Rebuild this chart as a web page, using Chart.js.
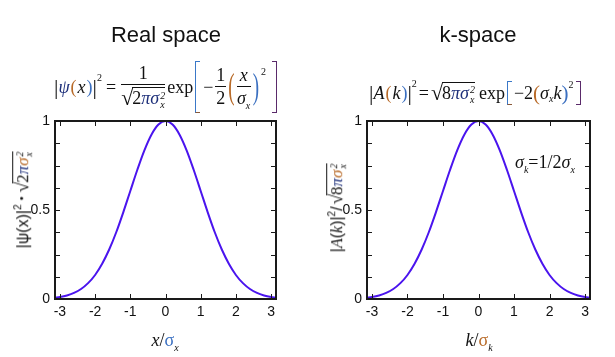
<!DOCTYPE html>
<html><head><meta charset="utf-8">
<script src="https://cdn.jsdelivr.net/npm/chart.js@4/dist/chart.umd.min.js"></script>
<style>
html,body{margin:0;padding:0;background:#fff;width:615px;height:357px;overflow:hidden}
#wrap{position:relative;width:615px;height:357px}
canvas{position:absolute;top:0}
.t{position:absolute;white-space:nowrap;color:#111}
.title{font-family:"Liberation Sans",Arial,sans-serif;font-size:22px;top:22px;transform:translateX(-50%)}
.m{font-family:"Liberation Serif","Times New Roman",serif;font-size:18px;display:flex;align-items:center;height:56px}
.i{font-style:italic}
.fr{display:inline-flex;flex-direction:column;align-items:center;margin:0 1px}
.fr .n{border-bottom:1px solid #111;padding:0 3px 1px;line-height:1.05;text-align:center;align-self:stretch}
.fr .d{line-height:1.05;padding-top:2px}
.ss{display:inline-flex;flex-direction:column;font-size:10px;line-height:0.95;vertical-align:middle;margin-left:1px}
.ov{border-top:1px solid #111;padding-top:1px;line-height:1}
.rad{font-size:22px;line-height:1;margin-right:-1px}
.br{display:inline-block;width:4px;border:1.5px solid;}
.bl{border-right:none}
.brr{border-left:none}
.bigp{display:inline-block;transform:scaleY(1.9);font-size:19px;margin:0 1px}
.sup{font-size:10px;position:relative;top:-9px}
.sub{font-size:10px;position:relative;top:5px}
.nv{color:#1d2f7a}
.bl2{color:#3a6fc0}
.or{color:#b86a28}
.sans{font-family:"Liberation Sans",Arial,sans-serif}
.ytitle{font-size:16px;transform:translate(-50%,-50%) rotate(-90deg);display:flex;align-items:center}
.xtitle{font-family:"Liberation Serif","Times New Roman",serif;font-size:18px;transform:translate(-50%,-50%);top:340px}
</style>
</head><body><div id="wrap">
<canvas id="c1" width="300" height="357" style="left:0"></canvas>
<canvas id="c2" width="315" height="357" style="left:300px"></canvas>

<div class="t title" style="left:166px">Real space</div>
<div class="t title" style="left:478px">k-space</div>

<!-- left formula -->
<div class="t m" style="left:54px;top:59px">
 <span style="font-size:22px">|</span><span class="i nv">ψ</span><span class="or" style="margin:0 1px">(</span><span class="i">x</span><span class="bl2" style="margin-left:1px">)</span><span style="font-size:22px">|</span><span class="sup" style="top:-10px">2</span>
 <span style="margin:0 4px">=</span>
 <span class="fr"><span class="n">1</span><span class="d" style="display:flex;align-items:flex-start"><span class="rad">√</span><span class="ov">2<span class="i nv">πσ</span><span class="ss i"><span>2</span><span>x</span></span></span></span></span>
 <span style="margin:0 2px 0 1px">exp</span>
 <span class="br bl" style="height:50px;border-color:#3a78c8 #3a78c8 #8a5a3a #3a78c8"></span>
 <span style="margin:0 1px 0 3px">−</span>
 <span class="fr"><span class="n" style="padding:0 1px 1px">1</span><span class="d">2</span></span>
 <span class="bigp or">(</span>
 <span class="fr"><span class="n i">x</span><span class="d"><span class="i">σ</span><span class="sub i">x</span></span></span>
 <span class="bigp bl2">)</span><span class="sup" style="top:-16px;margin-left:1px">2</span>
 <span class="br brr" style="height:50px;margin-left:6px;border-color:#5a2a6a"></span>
</div>

<!-- right formula -->
<div class="t m" style="left:369px;top:65px">
 <span style="font-size:22px">|</span><span class="i">A</span><span class="or" style="margin:0 1px">(</span><span class="i">k</span><span class="bl2" style="margin-left:1px">)</span><span style="font-size:22px">|</span><span class="sup" style="top:-10px">2</span>
 <span style="margin:0 2px">=</span>
 <span style="display:flex;align-items:flex-start"><span class="rad">√</span><span class="ov">8<span class="i nv">πσ</span><span class="ss i"><span>2</span><span>x</span></span></span></span>
 <span style="margin:0 2px 0 4px">exp</span>
 <span class="br bl" style="height:22px;border-color:#3a78c8 #3a78c8 #8a5a3a #3a78c8"></span>
 <span style="margin-left:2px">−2</span><span class="or" style="font-size:21px">(</span><span class="i">σ</span><span class="sub i">x</span><span class="i">k</span><span class="bl2" style="font-size:21px">)</span><span class="sup" style="top:-9px">2</span>
 <span class="br brr" style="height:22px;margin-left:3px;border-color:#5a2a6a"></span>
</div>

<!-- y titles -->
<div class="t ytitle" style="left:23px;top:200px">
 <span class="sans">|ψ(<span>x</span>)|<span class="sup" style="top:-7px">2</span></span><b style="margin:0 3px;font-size:18px">·</b>
 <span style="display:flex;align-items:flex-start;font-family:'Liberation Serif',serif;font-size:17px"><span class="rad" style="font-size:19px">√</span><span class="ov">2<span class="i nv">π</span><span class="i or">σ</span><span class="ss i"><span>2</span><span>x</span></span></span></span>
</div>
<div class="t ytitle" style="left:337px;top:208px">
 <span class="sans">|<span class="i" style="font-family:'Liberation Serif',serif">A</span>(<span class="i" style="font-family:'Liberation Serif',serif">k</span>)|<span class="sup" style="top:-7px">2</span>/</span>
 <span style="display:flex;align-items:flex-start;font-family:'Liberation Serif',serif;margin-left:2px;font-size:17px"><span class="rad" style="font-size:19px">√</span><span class="ov">8<span class="i nv">π</span><span class="i or">σ</span><span class="ss i"><span>2</span><span>x</span></span></span></span>
</div>

<!-- x titles -->
<div class="t xtitle" style="left:165px"><span class="i">x</span>/<span class="bl2">σ</span><span class="sub i">x</span></div>
<div class="t xtitle" style="left:479px"><span class="i">k</span>/<span class="or">σ</span><span class="sub i">k</span></div>

<!-- annotation -->
<div class="t" style="left:515px;top:152px;font-family:'Liberation Serif',serif;font-size:18px"><span class="i">σ</span><span class="sub i">k</span>=1/2<span class="i">σ</span><span class="sub i">x</span></div>
</div>

<script>
// ---- data ----
const xValues = [-3.14,-3.0,-2.8,-2.6,-2.4,-2.2,-2.0,-1.8,-1.6,-1.4,-1.2,-1.0,-0.8,-0.6,-0.4,-0.2,0,
                 0.2,0.4,0.6,0.8,1.0,1.2,1.4,1.6,1.8,2.0,2.2,2.4,2.6,2.8,3.0,3.14];
const realSpaceY = [0.007,0.011,0.020,0.034,0.056,0.089,0.135,0.198,0.278,0.375,0.487,0.607,0.726,0.835,0.923,0.980,1.000,
                    0.980,0.923,0.835,0.726,0.607,0.487,0.375,0.278,0.198,0.135,0.089,0.056,0.034,0.020,0.011,0.007];
const kSpaceY = [0.007,0.011,0.020,0.034,0.056,0.089,0.135,0.198,0.278,0.375,0.487,0.607,0.726,0.835,0.923,0.980,1.000,
                 0.980,0.923,0.835,0.726,0.607,0.487,0.375,0.278,0.198,0.135,0.089,0.056,0.034,0.020,0.011,0.007];
const xTickValues = [-3,-2,-1,0,1,2,3];
const yLabelValues = [0,0.5,1];

const frame = {
  id:'frame',
  afterDraw(c){
    const {ctx, chartArea:a, scales:{x,y}} = c;
    ctx.save();
    ctx.strokeStyle = '#1a1a1a';
    ctx.lineWidth = 1;
    const L = (x1,y1,x2,y2)=>{ctx.beginPath();ctx.moveTo(x1,y1);ctx.lineTo(x2,y2);ctx.stroke();};
    x.ticks.forEach(t=>{const p=Math.round(x.getPixelForValue(t.value))+0.5; L(p,a.bottom,p,a.bottom-5); L(p,a.top,p,a.top+5);});
    y.ticks.forEach(t=>{const p=Math.round(y.getPixelForValue(t.value))+0.5; L(a.left,p,a.left+5,p); L(a.right,p,a.right-5,p);});
    ctx.lineWidth = 2;
    ctx.strokeRect(a.left, a.top, a.right-a.left, a.bottom-a.top);
    ctx.restore();
  }
};

function makeChart(id, yData, yAxisWidth, padRight){
  return new Chart(document.getElementById(id), {
    type:'line',
    data:{datasets:[{data:xValues.map((v,i)=>({x:v,y:yData[i]})),
      borderColor:'#4a14ee', borderWidth:2, pointRadius:0, tension:0.4, cubicInterpolationMode:'monotone', clip:4}]},
    options:{
      responsive:false, animation:false, devicePixelRatio:1,
      layout:{padding:{left:0,right:padRight,top:121,bottom:0}},
      plugins:{legend:{display:false},tooltip:{enabled:false}},
      scales:{
        x:{type:'linear',min:-3.14,max:3.14,
           grid:{display:false,drawTicks:false}, border:{display:false},
           afterBuildTicks:s=>{s.ticks = xTickValues.map(v=>({value:v}));},
           afterFit:s=>{s.height=58;},
           ticks:{padding:5,color:'#111',font:{family:'"Liberation Sans", Arial, sans-serif',size:14},
                  callback:v=>String(v), maxRotation:0, autoSkip:false}},
        y:{type:'linear',min:0,max:1,
           grid:{display:false,drawTicks:false}, border:{display:false},
           afterFit:s=>{s.width=yAxisWidth;},
           ticks:{stepSize:0.125,padding:5,color:'#111',font:{family:'"Liberation Sans", Arial, sans-serif',size:14},
                  autoSkip:false,
                  callback:v=>yLabelValues.some(u=>Math.abs(u-v)<1e-9)?String(v):''}}
      }
    },
    plugins:[frame]
  });
}
makeChart('c1', realSpaceY, 55, 24);
makeChart('c2', kSpaceY, 67, 25);
</script>
</body></html>
